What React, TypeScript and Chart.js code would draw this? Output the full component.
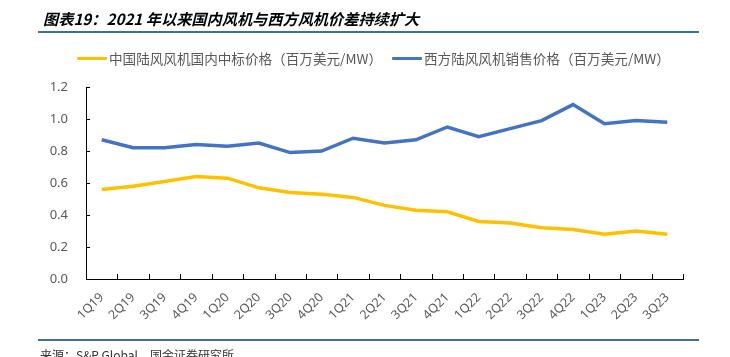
import React, { useEffect, useRef } from 'react';
import { Chart, registerables } from 'chart.js';

Chart.register(...registerables);

const categories = ['1Q19','2Q19','3Q19','4Q19','1Q20','2Q20','3Q20','4Q20','1Q21','2Q21','3Q21','4Q21','1Q22','2Q22','3Q22','4Q22','1Q23','2Q23','3Q23'];
const chinaPrice = [0.56,0.58,0.61,0.64,0.63,0.57,0.54,0.53,0.51,0.46,0.43,0.42,0.36,0.35,0.32,0.31,0.28,0.30,0.28];
const westPrice = [0.87,0.82,0.82,0.84,0.83,0.85,0.79,0.80,0.88,0.85,0.87,0.95,0.89,0.94,0.99,1.09,0.97,0.99,0.98];
const yTicks = [0, 0.2, 0.4, 0.6, 0.8, 1.0, 1.2];
const seriesNames = ['中国陆风风机国内中标价格（百万美元/MW）', '西方陆风风机销售价格（百万美元/MW）'];
const titleText = '图表19：2021 年以来国内风机与西方风机价差持续扩大';
const sourceText = '来源：S&P Global，国金证券研究所';

const YELLOW = '#FFC000';
const BLUE = '#4472C4';
const CJK = '"Noto Sans CJK SC", "Noto Sans", sans-serif';

const tickPlugin = {
  id: 'innerTicks',
  afterDraw(chart: any) {
    const { ctx, chartArea, scales } = chart;
    const ys = scales.y;
    const xs = scales.x;
    ctx.save();
    ctx.strokeStyle = '#000';
    ctx.lineWidth = 1;
    ctx.beginPath();
    yTicks.forEach((v) => {
      const y = Math.round(ys.getPixelForValue(v)) + 0.5;
      ctx.moveTo(chartArea.left, y);
      ctx.lineTo(chartArea.left + 4, y);
    });
    const n = categories.length;
    const w = (xs.right - xs.left) / n;
    for (let i = 1; i <= n; i++) {
      const x = Math.round(xs.left + i * w) + 0.5;
      ctx.moveTo(x, chartArea.bottom);
      ctx.lineTo(x, chartArea.bottom - 5);
    }
    ctx.stroke();
    ctx.restore();
  },
};

export default function App() {
  const ref = useRef<HTMLCanvasElement>(null);

  useEffect(() => {
    if (!ref.current) return;
    const chart = new Chart(ref.current, {
      type: 'line',
      data: {
        labels: categories,
        datasets: [
          { label: seriesNames[0], data: chinaPrice, borderColor: YELLOW, backgroundColor: YELLOW, borderWidth: 3.5, pointRadius: 0, tension: 0 },
          { label: seriesNames[1], data: westPrice, borderColor: BLUE, backgroundColor: BLUE, borderWidth: 3.5, pointRadius: 0, tension: 0 },
        ],
      },
      options: {
        animation: false,
        responsive: false,
        maintainAspectRatio: false,
        layout: { padding: { top: 87, right: 47, bottom: 0, left: 0 } },
        plugins: { legend: { display: false }, title: { display: false }, tooltip: { enabled: false } },
        scales: {
          x: {
            offset: true,
            grid: { display: true, drawOnChartArea: false, drawTicks: false },
            border: { display: true, color: '#000', width: 1 },
            ticks: {
              minRotation: 45,
              maxRotation: 45,
              padding: 11,
              color: '#595959',
              font: { family: '"Noto Sans", sans-serif', size: 12.5 },
              autoSkip: false,
            },
            afterFit: (s: any) => { s.height = 78; },
          },
          y: {
            min: 0,
            max: 1.2,
            grid: { display: true, drawOnChartArea: false, drawTicks: false },
            border: { display: true, color: '#000', width: 1 },
            ticks: {
              stepSize: 0.2,
              padding: 18,
              color: '#595959',
              font: { family: '"Noto Sans", sans-serif', size: 13 },
              callback: (v: any) => Number(v).toFixed(1),
            },
            afterFit: (s: any) => { s.width = 86; },
          },
        },
      },
      plugins: [tickPlugin],
    });
    return () => chart.destroy();
  }, []);

  const rule = (top: number) => (
    <div style={{ position: 'absolute', left: 38, top, width: 661, height: 2, background: '#3A7099' }} />
  );

  const legendItem = (color: string, text: string, marginRight: number) => (
    <div style={{ display: 'flex', alignItems: 'center', marginRight }}>
      <div style={{ width: 30, height: 3, background: color, marginRight: 2, borderRadius: 1 }} />
      <span>{text}</span>
    </div>
  );

  return (
    <div style={{ position: 'absolute', left: 0, top: 0, width: 730, height: 357, background: '#fff', overflow: 'hidden' }}>
      <canvas ref={ref} width={730} height={357} style={{ position: 'absolute', left: 0, top: 0, width: 730, height: 357 }} />
      <div style={{ position: 'absolute', left: 43, top: 8, fontFamily: CJK, fontSize: 15.2, fontWeight: 'bold', fontStyle: 'italic', lineHeight: '20px', color: '#000', whiteSpace: 'nowrap' }}>
        {titleText}
      </div>
      {rule(31)}
      <div style={{ position: 'absolute', left: 77, top: 49, display: 'flex', fontFamily: CJK, fontSize: 13.6, lineHeight: '18px', color: '#595959', whiteSpace: 'nowrap' }}>
        {legendItem(YELLOW, seriesNames[0], 10)}
        {legendItem(BLUE, seriesNames[1], 0)}
      </div>
      {rule(339)}
      <div style={{ position: 'absolute', left: 40, top: 348, fontFamily: CJK, fontSize: 12, lineHeight: '14px', color: '#333', whiteSpace: 'nowrap' }}>
        {sourceText}
      </div>
    </div>
  );
}
